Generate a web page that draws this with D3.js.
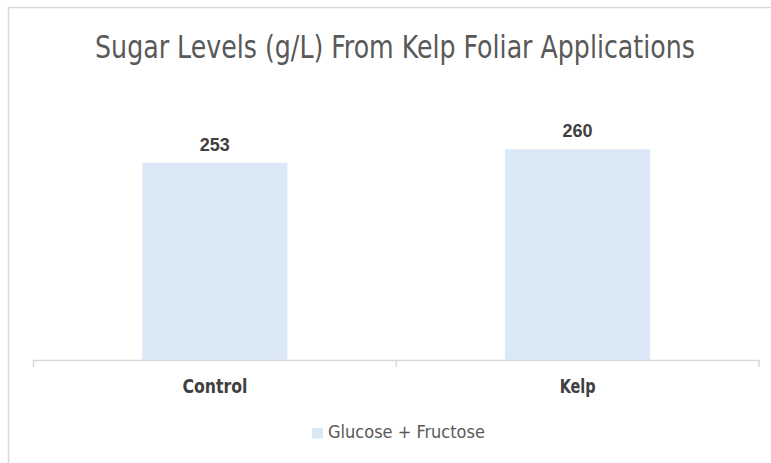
<!DOCTYPE html>
<html>
<head>
<meta charset="utf-8">
<script src="https://cdn.jsdelivr.net/npm/d3@7"></script>
<style>
  html, body { margin: 0; padding: 0; background: #fff; }
  svg { display: block; }
</style>
</head>
<body>
<svg id="chart" width="771" height="463"></svg>
<script>
const title = "Sugar Levels (g/L) From Kelp Foliar Applications";
const categories = ["Control", "Kelp"];
const seriesName = "Glucose + Fructose";
const values = [253, 260];
const yDomain = [150, 300];

const W = 771, H = 463;
const plotTop = 72.7, plotBottom = 360;
const axisLeft = 33.5, axisRight = 759;

const svg = d3.select("#chart");
const narrow = "'Liberation Sans Narrow', 'DejaVu Sans Condensed', 'Arial Narrow', sans-serif";

// place a text at (x, y) and squeeze it horizontally to a target width (condensed look)
function placeFit(sel, px, py, target) {
  sel.attr("x", 0).attr("y", 0);
  sel.each(function () {
    const w = this.getComputedTextLength();
    const s = w > target ? target / w : 1;
    d3.select(this).attr("transform", `translate(${px},${py}) scale(${s},1)`);
  });
}

// outer border
svg.append("rect")
  .attr("x", 8.5).attr("y", 7.5)
  .attr("width", W + 20).attr("height", H + 20)
  .attr("fill", "#fff").attr("stroke", "#d9d9d9").attr("stroke-width", 1.5);

const x = d3.scaleBand()
  .domain(categories)
  .range([axisLeft, axisRight])
  .paddingInner(0.6)
  .paddingOuter(0.3);

const y = d3.scaleLinear()
  .domain(yDomain)
  .range([plotBottom, plotTop]);

// title
svg.append("text")
  .attr("text-anchor", "middle")
  .attr("font-family", narrow)
  .attr("font-size", 32)
  .attr("fill", "#595959")
  .text(title)
  .call(placeFit, 395, 57.5, 600);

// bars
svg.append("g").selectAll("rect")
  .data(categories)
  .join("rect")
  .attr("x", d => x(d))
  .attr("width", x.bandwidth())
  .attr("y", (d, i) => y(values[i]))
  .attr("height", (d, i) => plotBottom - y(values[i]))
  .attr("fill", "#dbe8f6");

// data labels
svg.append("g").selectAll("text")
  .data(categories)
  .join("text")
  .attr("x", d => x(d) + x.bandwidth() / 2)
  .attr("y", (d, i) => y(values[i]) - 12)
  .attr("text-anchor", "middle")
  .attr("font-family", "'Liberation Sans', Arial, sans-serif")
  .attr("font-weight", "bold")
  .attr("font-size", 18)
  .attr("fill", "#404040")
  .text((d, i) => values[i]);

// x axis
const xAxisBand = d3.scaleBand().domain(categories).range([axisLeft, axisRight]);
const axis = d3.axisBottom(xAxisBand).tickSize(0).tickFormat(d => d);
const gx = svg.append("g").attr("transform", `translate(0,${plotBottom})`).call(axis);
gx.select(".domain").attr("stroke", "#d9d9d9").attr("stroke-width", 1.5);
gx.selectAll(".tick text")
  .attr("dy", null)
  .attr("font-family", narrow)
  .attr("font-weight", "bold")
  .attr("font-size", 20)
  .attr("fill", "#404040")
  .each(function (d) {
    d3.select(this).call(placeFit, 0, 33, d === "Control" ? 65 : 36);
  });
// boundary tick marks (between categories)
const bounds = [axisLeft, xAxisBand(categories[1]), axisRight];
gx.selectAll(".btick").data(bounds).join("line")
  .attr("class", "btick")
  .attr("x1", d => d).attr("x2", d => d)
  .attr("y1", 0).attr("y2", 7)
  .attr("stroke", "#d9d9d9").attr("stroke-width", 1.5);

// legend
const lg = svg.append("g").attr("transform", "translate(312,428)");
lg.append("rect").attr("width", 11).attr("height", 10.5).attr("fill", "#dbe8f6");
lg.append("text")
  .attr("font-family", narrow)
  .attr("font-size", 18)
  .attr("fill", "#595959")
  .text(seriesName)
  .call(placeFit, 16, 10, 159);
</script>
</body>
</html>
